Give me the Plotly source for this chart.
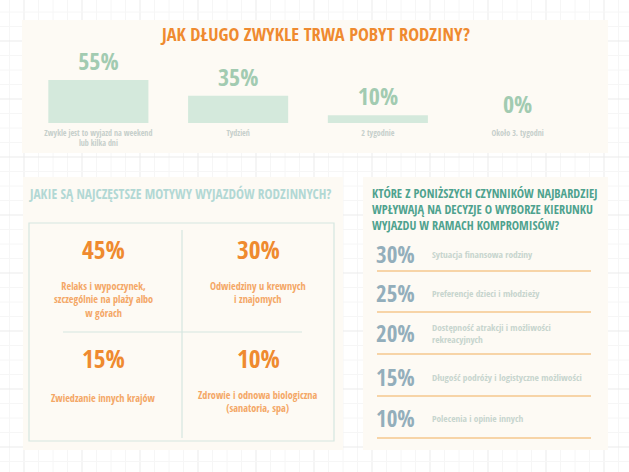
import plotly.graph_objects as go

W, H = 629, 472

# ---------------- data ----------------
stay_title = "JAK DŁUGO ZWYKLE TRWA POBYT RODZINY?"
stay_labels = ["Zwykle jest to wyjazd na weekend<br>lub kilka dni", "Tydzień", "2 tygodnie", "Około 3. tygodni"]
stay_values = [55, 35, 10, 0]

motive_title = "JAKIE SĄ NAJCZĘSTSZE MOTYWY WYJAZDÓW RODZINNYCH?"
motive_labels = ["Relaks i wypoczynek,<br>szczególnie na plaży albo<br>w górach",
                 "Odwiedziny u krewnych<br>i znajomych",
                 "Zwiedzanie innych krajów",
                 "Zdrowie i odnowa biologiczna<br>(sanatoria, spa)"]
motive_values = [45, 30, 15, 10]

factor_title = "KTÓRE Z PONIŻSZYCH CZYNNIKÓW NAJBARDZIEJ<br>WPŁYWAJĄ NA DECYZJE O WYBORZE KIERUNKU<br>WYJAZDU W RAMACH KOMPROMISÓW?"
factor_labels = ["Sytuacja finansowa rodziny",
                 "Preferencje dzieci i młodzieży",
                 "Dostępność atrakcji i możliwości<br>rekreacyjnych",
                 "Długość podróży i logistyczne możliwości",
                 "Polecenia i opinie innych"]
factor_values = [30, 25, 20, 15, 10]

# ---------------- style ----------------
COND = "'Open Sans Condensed', 'Roboto', sans-serif"
ORANGE = "#ef8a2f"
ORANGE_L = "#f4a766"
GREEN_TXT = "#a2cbb1"
BAR = "#d4e9dc"
GREY_TXT = "#c6cfcb"
GREY_TXT2 = "#c7d5ce"
TEAL_L = "#b2d8d4"
TEAL = "#4ea28e"
SLATE = "#93aebb"
LINE_O = "#f5c78e"
BOX = "#d5e6e0"
PANEL = "#fdfaf4"


def px(x):
    return x / W


def py(y):
    return 1 - y / H


shapes = []
# graph-paper background
for i in range(-4, 48):
    x = 24 + i * 14.5
    major = i % 4 == 0
    shapes.append(dict(type="line", xref="paper", yref="paper", x0=px(x), x1=px(x), y0=0, y1=1,
                       line=dict(color="#ebebeb" if major else "#f6f6f6", width=1), layer="below"))
for i in range(-4, 40):
    y = 41 + i * 14.5
    major = i % 4 == 0
    shapes.append(dict(type="line", xref="paper", yref="paper", x0=0, x1=1, y0=py(y), y1=py(y),
                       line=dict(color="#ebebeb" if major else "#f6f6f6", width=1), layer="below"))

# panels
for (x0, y0, x1, y1) in [(22, 20, 608, 153), (23, 177, 343, 450), (363, 177, 608, 450)]:
    shapes.append(dict(type="rect", xref="paper", yref="paper", x0=px(x0), x1=px(x1), y0=py(y1), y1=py(y0),
                       fillcolor=PANEL, line=dict(width=0), layer="below"))

# quadrant box
shapes.append(dict(type="rect", xref="paper", yref="paper", x0=px(29), x1=px(334), y0=py(441), y1=py(223),
                   fillcolor="rgba(0,0,0,0)", line=dict(color=BOX, width=1.2), layer="below"))
shapes.append(dict(type="line", xref="paper", yref="paper", x0=px(182), x1=px(182), y0=py(438), y1=py(230),
                   line=dict(color=BOX, width=1.2), layer="below"))
shapes.append(dict(type="line", xref="paper", yref="paper", x0=px(63), x1=px(302), y0=py(332), y1=py(332),
                   line=dict(color=BOX, width=1.2), layer="below"))

annotations = []
annotations.append(dict(text=stay_title, x=px(315), y=py(33), xref="paper", yref="paper", showarrow=False,
                        font=dict(family=COND, size=18.3, color=ORANGE), xanchor="center", yanchor="middle"))
annotations.append(dict(text=motive_title, x=px(27), y=py(194), xref="paper", yref="paper", showarrow=False,
                        font=dict(family=COND, size=13.4, color=TEAL_L), xanchor="left", yanchor="middle"))
annotations.append(dict(text=factor_title, x=px(370), y=py(209), xref="paper", yref="paper", showarrow=False,
                        font=dict(family=COND, size=12.3, color=TEAL), xanchor="left", yanchor="middle",
                        align="left"))

# quadrants
qx = [103, 258, 103, 258]
qv_y = [249, 249, 358, 358]
qd_y = [299, 292, 398, 401]
for i in range(4):
    annotations.append(dict(text=f"{motive_values[i]}%", x=px(qx[i]), y=py(qv_y[i]), xref="paper", yref="paper",
                            showarrow=False, font=dict(family=COND, size=25.5, color=ORANGE),
                            xanchor="center", yanchor="middle"))
    annotations.append(dict(text=motive_labels[i], x=px(qx[i]), y=py(qd_y[i]), xref="paper", yref="paper",
                            showarrow=False, font=dict(family=COND, size=10.2, color=ORANGE_L),
                            xanchor="center", yanchor="middle", align="center"))

# factor rows
row_y = [254, 293, 333, 377, 418]
line_y = [271, 312, 354, 396, 438]
for i in range(5):
    annotations.append(dict(text=f"{factor_values[i]}%", x=px(374), y=py(row_y[i]), xref="paper", yref="paper",
                            showarrow=False, font=dict(family=COND, size=23, color=SLATE),
                            xanchor="left", yanchor="middle"))
    annotations.append(dict(text=factor_labels[i], x=px(430), y=py(row_y[i]), xref="paper", yref="paper",
                            showarrow=False, font=dict(family=COND, size=9.4, color=GREY_TXT2),
                            xanchor="left", yanchor="middle", align="left"))
    shapes.append(dict(type="line", xref="paper", yref="paper", x0=px(377), x1=px(591), y0=py(line_y[i]),
                       y1=py(line_y[i]), line=dict(color=LINE_O, width=1.5), layer="below"))

fig = go.Figure()
fig.add_trace(go.Bar(
    x=stay_labels, y=stay_values,
    marker=dict(color=BAR, line=dict(width=0)),
    text=[f"{v}%" for v in stay_values], textposition="outside", cliponaxis=False,
    textfont=dict(family=COND, size=24, color=GREEN_TXT),
    hoverinfo="skip",
))

fig.update_layout(
    width=W, height=H,
    margin=dict(l=0, r=0, t=0, b=0),
    paper_bgcolor="white", plot_bgcolor="rgba(0,0,0,0)",
    showlegend=False,
    bargap=0.284,
    xaxis=dict(domain=[28.5 / W, 587.5 / W], showgrid=False, zeroline=False, showline=False,
               ticks="", ticklabelstandoff=4,
               tickfont=dict(family=COND, size=8, color=GREY_TXT), fixedrange=True),
    yaxis=dict(domain=[py(123), py(123 - 78.2)], range=[0, 100], visible=False, showgrid=False,
               fixedrange=True),
    shapes=shapes,
    annotations=annotations,
)

fig.write_html("out.html", config={"displayModeBar": False},
               post_script="document.body.style.margin='0';")
